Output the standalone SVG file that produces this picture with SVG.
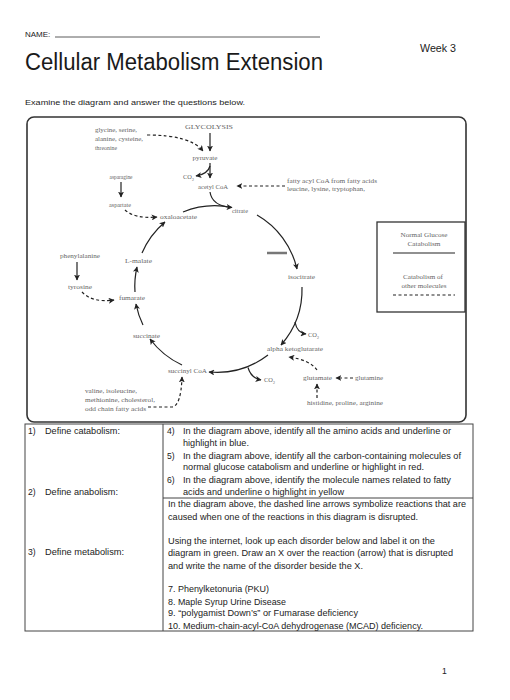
<svg xmlns="http://www.w3.org/2000/svg" width="510" height="700" viewBox="0 0 510 700">
<defs>
<marker id="ah" viewBox="0 0 10 10" refX="9" refY="5" markerWidth="6" markerHeight="6" markerUnits="userSpaceOnUse" orient="auto"><path d="M0,0 L10,5 L0,10 L2.5,5 z" fill="#222"/></marker>
<style>
.pg{font-family:"Liberation Sans",Arial,sans-serif;fill:#1a1a1a}
.tb{font-family:"Liberation Sans",Arial,sans-serif;font-size:8.6px;fill:#222}
.dg{font-family:"Liberation Serif","Times New Roman",serif;font-size:6.4px;fill:#666}
.sol{fill:none;stroke:#222;stroke-width:1.2}
.das{fill:none;stroke:#222;stroke-width:1.2;stroke-dasharray:3 2.5}
.mk{marker-end:url(#ah)}
</style>
</defs>
<rect width="510" height="700" fill="#fff"/>
<g id="header">
<text class="pg" x="25" y="37" font-size="8">NAME:</text>
<line x1="55" y1="37" x2="320" y2="37" stroke="#333" stroke-width="0.8"/>
<text class="pg" x="420" y="52" font-size="10" textLength="36" lengthAdjust="spacingAndGlyphs">Week 3</text>
<text class="pg" x="25" y="70" font-size="23" textLength="298" lengthAdjust="spacingAndGlyphs">Cellular Metabolism Extension</text>
<text class="pg" x="25" y="105" font-size="8" textLength="220" lengthAdjust="spacingAndGlyphs">Examine the diagram and answer the questions below.</text>
</g>
<g id="diagram-frame">
<rect x="27" y="117" width="439" height="305" rx="7" fill="none" stroke="#333" stroke-width="1.6"/>
</g>
<g id="legend">
<rect x="377" y="222" width="88" height="90" fill="none" stroke="#333" stroke-width="1.3"/>
<text class="dg" x="424" y="237" text-anchor="middle" textLength="47" lengthAdjust="spacingAndGlyphs">Normal Glucose</text>
<text class="dg" x="424" y="246" text-anchor="middle" textLength="33" lengthAdjust="spacingAndGlyphs">Catabolism</text>
<line x1="393" y1="253" x2="455" y2="253" stroke="#222" stroke-width="1.2"/>
<text class="dg" x="423" y="279" text-anchor="middle" textLength="40" lengthAdjust="spacingAndGlyphs">Catabolism of</text>
<text class="dg" x="424" y="288" text-anchor="middle" textLength="45" lengthAdjust="spacingAndGlyphs">other molecules</text>
<line x1="393" y1="295" x2="455" y2="295" stroke="#222" stroke-width="1.2" stroke-dasharray="3 2.5"/>
</g>
<g id="connectors">
<path class="sol mk" d="M210,133 L210,151" stroke="#555" stroke-width="1.5"/>
<path class="das mk" d="M147,135 Q190,135 203,151"/>
<path class="sol mk" d="M210,163 L210,178"/>
<path class="sol mk" d="M210,166 Q208,174 196,176"/>
<path class="das mk" d="M285,186 L237,186"/>
<path class="sol mk" d="M121,182 L121,197"/>
<path class="das mk" d="M125,210 Q135,219 157,217"/>
<path class="sol mk" d="M77,262 L77,280"/>
<path class="das mk" d="M82,292 Q92,303 114,300"/>
<path class="sol" d="M183,212 A84,84 0 0 1 232,207.5"/>
<path class="sol mk" d="M210,192 Q212,206 232,207.5"/>
<path class="sol mk" d="M257,215 A84,84 0 0 1 297,269"/>
<path class="sol mk" d="M302,287 A84,84 0 0 1 281,345"/>
<path class="sol mk" d="M295,322 Q297,333 306,334"/>
<path class="sol mk" d="M268,355 A84,84 0 0 1 209,372"/>
<path class="sol mk" d="M248,367.5 Q251,378 261,380"/>
<path class="sol mk" d="M182,365 A84,84 0 0 1 150,339"/>
<path class="sol mk" d="M143,325 A84,84 0 0 1 136,304"/>
<path class="sol mk" d="M135,292 A84,84 0 0 1 137,267"/>
<path class="sol mk" d="M142,253 A84,84 0 0 1 165,222"/>
<path class="das mk" d="M353,378 L336,378"/>
<path class="das mk" d="M317,398 L317,384"/>
<path class="das mk" d="M317,370 Q310,360 289,357"/>
<path class="das mk" d="M148,407 L172,407 Q181,406 182,377"/>
<line x1="267" y1="253" x2="287" y2="253" stroke="#777" stroke-width="2.5"/>
</g>
<g id="n-glycolysis"><text class="dg" x="209" y="129" text-anchor="middle" textLength="48" lengthAdjust="spacingAndGlyphs">GLYCOLYSIS</text></g>
<g id="n-glycine">
<text class="dg" x="95" y="132" textLength="42" lengthAdjust="spacingAndGlyphs">glycine, serine,</text>
<text class="dg" x="95" y="141" textLength="48" lengthAdjust="spacingAndGlyphs">alanine, cysteine,</text>
<text class="dg" x="95" y="150" textLength="22" lengthAdjust="spacingAndGlyphs">threonine</text>
</g>
<g id="n-pyruvate"><text class="dg" x="205" y="160" text-anchor="middle" textLength="25" lengthAdjust="spacingAndGlyphs">pyruvate</text></g>
<g id="n-co2a"><text class="dg" x="183" y="179">CO<tspan font-size="4" dy="1.5">2</tspan></text></g>
<g id="n-acetyl"><text class="dg" x="198" y="189" textLength="30" lengthAdjust="spacingAndGlyphs">acetyl CoA</text></g>
<g id="n-fatty">
<text class="dg" x="287" y="183" textLength="90" lengthAdjust="spacingAndGlyphs">fatty acyl CoA from fatty acids</text>
<text class="dg" x="287" y="191" textLength="78" lengthAdjust="spacingAndGlyphs">leucine, lysine, tryptophan,</text>
</g>
<g id="n-asparagine"><text class="dg" x="121" y="179" text-anchor="middle" textLength="23" lengthAdjust="spacingAndGlyphs">asparagine</text></g>
<g id="n-aspartate"><text class="dg" x="120" y="207" text-anchor="middle" textLength="22" lengthAdjust="spacingAndGlyphs">aspartate</text></g>
<g id="n-oxaloacetate"><text class="dg" x="160" y="219" textLength="37" lengthAdjust="spacingAndGlyphs">oxaloacetate</text></g>
<g id="n-citrate"><text class="dg" x="232" y="213" textLength="16" lengthAdjust="spacingAndGlyphs">citrate</text></g>
<g id="n-phenylalanine"><text class="dg" x="60" y="258" textLength="40" lengthAdjust="spacingAndGlyphs">phenylalanine</text></g>
<g id="n-tyrosine"><text class="dg" x="68" y="289" textLength="24" lengthAdjust="spacingAndGlyphs">tyrosine</text></g>
<g id="n-lmalate"><text class="dg" x="125" y="263" textLength="27" lengthAdjust="spacingAndGlyphs">L-malate</text></g>
<g id="n-fumarate"><text class="dg" x="119" y="300" textLength="26" lengthAdjust="spacingAndGlyphs">fumarate</text></g>
<g id="n-isocitrate"><text class="dg" x="288" y="279" textLength="27" lengthAdjust="spacingAndGlyphs">isocitrate</text></g>
<g id="n-co2b"><text class="dg" x="308" y="337">CO<tspan font-size="4" dy="1.5">2</tspan></text></g>
<g id="n-alpha"><text class="dg" x="267" y="351" textLength="56" lengthAdjust="spacingAndGlyphs">alpha ketoglutarate</text></g>
<g id="n-succinate"><text class="dg" x="133" y="338" textLength="27" lengthAdjust="spacingAndGlyphs">succinate</text></g>
<g id="n-succinylcoa"><text class="dg" x="168" y="373" textLength="39" lengthAdjust="spacingAndGlyphs">succinyl CoA</text></g>
<g id="n-co2c"><text class="dg" x="264" y="382">CO<tspan font-size="4" dy="1.5">2</tspan></text></g>
<g id="n-glutamate"><text class="dg" x="303" y="380" textLength="29" lengthAdjust="spacingAndGlyphs">glutamate</text></g>
<g id="n-glutamine"><text class="dg" x="355" y="380" textLength="28" lengthAdjust="spacingAndGlyphs">glutamine</text></g>
<g id="n-histidine"><text class="dg" x="307" y="405" textLength="76" lengthAdjust="spacingAndGlyphs">histidine, proline, arginine</text></g>
<g id="n-valine">
<text class="dg" x="85" y="393" textLength="52" lengthAdjust="spacingAndGlyphs">valine, isoleucine,</text>
<text class="dg" x="85" y="402" textLength="70" lengthAdjust="spacingAndGlyphs">methionine, cholesterol,</text>
<text class="dg" x="85" y="411" textLength="61" lengthAdjust="spacingAndGlyphs">odd chain fatty acids</text>
</g>
<g id="table">
<rect x="25" y="424" width="448" height="207" fill="none" stroke="#444" stroke-width="1"/>
<line x1="163" y1="424" x2="163" y2="631" stroke="#444" stroke-width="1"/>
<line x1="163" y1="498" x2="473" y2="498" stroke="#444" stroke-width="1"/>
<text class="tb" x="28" y="434">1)</text>
<text class="tb" x="45" y="434" textLength="75" lengthAdjust="spacingAndGlyphs">Define catabolism:</text>
<text class="tb" x="28" y="495">2)</text>
<text class="tb" x="45" y="495" textLength="73" lengthAdjust="spacingAndGlyphs">Define anabolism:</text>
<text class="tb" x="28" y="555">3)</text>
<text class="tb" x="45" y="555" textLength="79" lengthAdjust="spacingAndGlyphs">Define metabolism:</text>
<text class="tb" x="167" y="434">4)</text>
<text class="tb" x="183" y="434" textLength="268" lengthAdjust="spacingAndGlyphs">In the diagram above, identify all the amino acids and underline or</text>
<text class="tb" x="183" y="446" textLength="66" lengthAdjust="spacingAndGlyphs">highlight in blue.</text>
<text class="tb" x="167" y="459">5)</text>
<text class="tb" x="183" y="459" textLength="278" lengthAdjust="spacingAndGlyphs">In the diagram above, identify all the carbon-containing molecules of</text>
<text class="tb" x="183" y="470" textLength="241" lengthAdjust="spacingAndGlyphs">normal glucose catabolism and underline or highlight in red.</text>
<text class="tb" x="167" y="483">6)</text>
<text class="tb" x="183" y="483" textLength="268" lengthAdjust="spacingAndGlyphs">In the diagram above, identify the molecule names related to fatty</text>
<text class="tb" x="183" y="495" textLength="161" lengthAdjust="spacingAndGlyphs">acids and underline o highlight in yellow</text>
<text class="tb" x="168" y="507" textLength="298" lengthAdjust="spacingAndGlyphs">In the diagram above, the dashed line arrows symbolize reactions that are</text>
<text class="tb" x="168" y="520" textLength="250" lengthAdjust="spacingAndGlyphs">caused when one of the reactions in this diagram is disrupted.</text>
<text class="tb" x="168" y="544" textLength="267" lengthAdjust="spacingAndGlyphs">Using the internet, look up each disorder below and label it on the</text>
<text class="tb" x="168" y="556" textLength="285" lengthAdjust="spacingAndGlyphs">diagram in green. Draw an X over the reaction (arrow) that is disrupted</text>
<text class="tb" x="168" y="569" textLength="195" lengthAdjust="spacingAndGlyphs">and write the name of the disorder beside the X.</text>
<text class="tb" x="168" y="592" textLength="101" lengthAdjust="spacingAndGlyphs">7. Phenylketonuria (PKU)</text>
<text class="tb" x="168" y="605" textLength="118" lengthAdjust="spacingAndGlyphs">8. Maple Syrup Urine Disease</text>
<text class="tb" x="168" y="616" textLength="190" lengthAdjust="spacingAndGlyphs">9. “polygamist Down’s” or Fumarase deficiency</text>
<text class="tb" x="168" y="629" textLength="255" lengthAdjust="spacingAndGlyphs">10. Medium-chain-acyl-CoA dehydrogenase (MCAD) deficiency.</text>
</g>
<text class="tb" x="442" y="674">1</text>
</svg>
